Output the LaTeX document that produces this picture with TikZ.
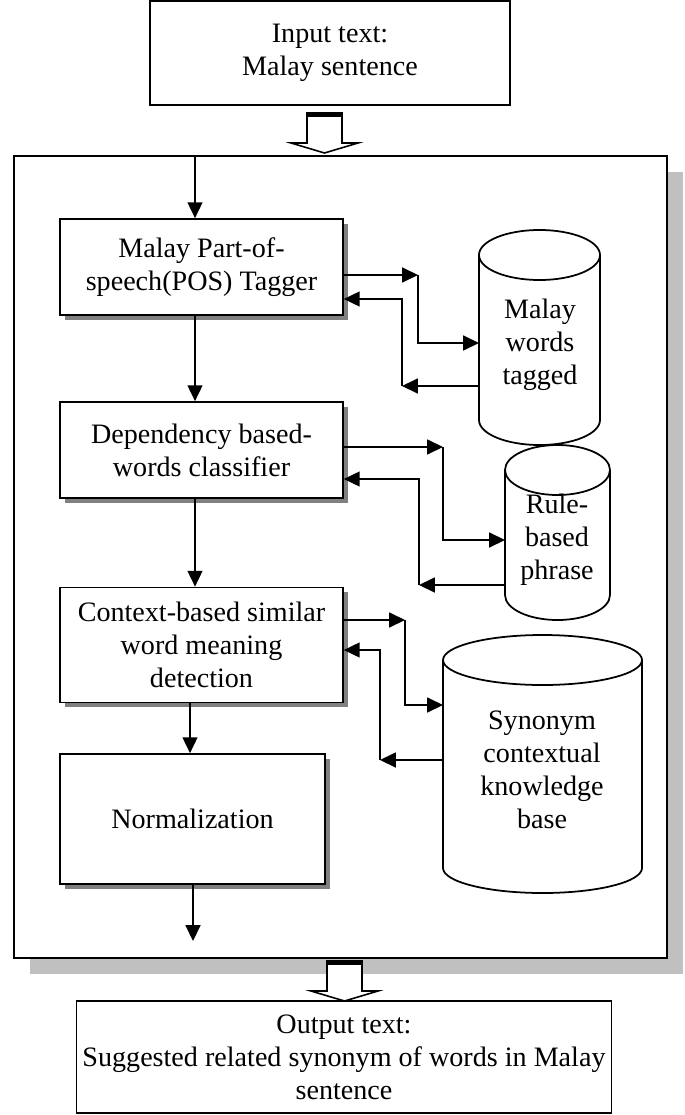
\documentclass[tikz,border=0pt]{standalone}
\usepackage{fontspec}
\setmainfont{Liberation Serif}
\usetikzlibrary{arrows.meta,positioning,calc,shadows}
\definecolor{shadelight}{HTML}{C0C0C0}
\definecolor{shadedark}{HTML}{808080}

\begin{document}
\begin{tikzpicture}[x=0.02cm, y=0.02cm,
  every node/.style={font=\fontsize{16}{18.7}\selectfont},
  box/.style={draw, line width=1pt, fill=white, align=center,
              minimum width=5.66cm, minimum height=1.92cm,
              general shadow={fill=shadedark, shadow xshift=2.8pt, shadow yshift=-2.8pt}},
  io/.style={draw, line width=0.9pt, fill=white, align=center},
  arr/.style={-{Triangle[length=9pt, width=8.5pt]}, line width=0.8pt},
  hollow/.style={draw, line width=0.9pt, fill=white, line join=miter},
  cyl/.style={draw, line width=1pt, fill=white}
]
\useasboundingbox (0,0) rectangle (684,-1115);

%% input / output
\node[io, minimum width=7.2cm, minimum height=2.08cm] (inp) at (330,-53)
  {Input text:\\Malay sentence};
\node[io, minimum width=9cm, minimum height=2.24cm] (out) at (344,-1057)
  {Output text:\\Suggested related synonym of words in Malay\\sentence};

%% outer frame
\node[draw, line width=1pt, fill=white, minimum width=13.06cm, minimum height=16.04cm,
  general shadow={fill=shadelight, shadow xshift=9pt, shadow yshift=-9pt}]
  (frame) at (340.5,-557) {};

%% hollow arrows
\foreach \cx/\ty in {324.5/113, 344.5/961} {
  \draw[hollow] (\cx-17.5,-\ty) -- (\cx-17.5,-\ty-30) -- (\cx-33.5,-\ty-30)
    -- (\cx,-\ty-40) -- (\cx+33.5,-\ty-30) -- (\cx+17.5,-\ty-30) -- (\cx+17.5,-\ty) -- cycle;
  \draw[line width=2.2pt] (\cx-17.5,-\ty-2) -- (\cx+17.5,-\ty-2);
}

%% process steps
\node[box] (pos)  at (201.5,-267) {Malay Part-of-\\speech(POS) Tagger};
\node[box] (dep)  at (201.5,-450) {Dependency based-\\words classifier};
\node[box, minimum height=2.3cm] (ctx)  at (201.5,-645)
  {Context-based similar\\word meaning\\detection};
\node[box, minimum width=5.3cm, minimum height=2.6cm] (norm) at (192.5,-819) {Normalization};
\coordinate (normout) at (193,-941);

\draw[arr] (frame.north -| 195,0) -- (pos.north -| 195,0);
\draw[arr] (pos.south -| 195,0) -- (dep.north -| 195,0);
\draw[arr] (dep.south -| 195,0) -- (ctx.north -| 195,0);
\draw[arr] (ctx.south -| 190,0) -- (norm.north -| 190,0);
\draw[arr] (norm.south -| normout) -- (normout);

%% stores
\foreach \l/\r/\t/\b in {479/600/255/420, 505/610/470/595, 443/642/660/868} {
  \draw[cyl] (\l,-\t) -- (\l,-\b)
    arc[start angle=180, end angle=360, x radius={(\r-\l)/2}, y radius=25] -- (\r,-\t);
  \draw[cyl] ({(\l+\r)/2},-\t) ellipse [x radius={(\r-\l)/2}, y radius=25];
}
\node[align=center] (tagged)  at (540,-345) {Malay\\words\\tagged};
\node[align=center] (rule)    at (557,-540) {Rule-\\based\\phrase};
\node[align=center] (synonym) at (542,-770) {Synonym\\contextual\\knowledge\\base};

%% links to stores
\coordinate (c1a) at (479,-343);  \coordinate (c1b) at (479,-386);
\coordinate (c2a) at (505,-540);  \coordinate (c2b) at (505,-585);
\coordinate (c3a) at (443,-705);  \coordinate (c3b) at (443,-760);
\coordinate (p1) at (418,-275);   \coordinate (q1) at (402,-299);
\coordinate (p2) at (443,-447);   \coordinate (q2) at (419,-479);
\coordinate (p3) at (405,-620);   \coordinate (q3) at (380,-650);

\draw[arr] (pos.east |- p1) -- (p1);
\draw[arr] (p1) |- (c1a);
\draw[arr] (c1b) -- (c1b -| q1);
\draw[arr] (c1b -| q1) |- (pos.east |- q1);

\draw[arr] (dep.east |- p2) -- (p2);
\draw[arr] (p2) |- (c2a);
\draw[arr] (c2b) -- (c2b -| q2);
\draw[arr] (c2b -| q2) |- (dep.east |- q2);

\draw[arr] (ctx.east |- p3) -- (p3);
\draw[arr] (p3) |- (c3a);
\draw[arr] (c3b) -- (c3b -| q3);
\draw[arr] (c3b -| q3) |- (ctx.east |- q3);

\end{tikzpicture}
\end{document}
